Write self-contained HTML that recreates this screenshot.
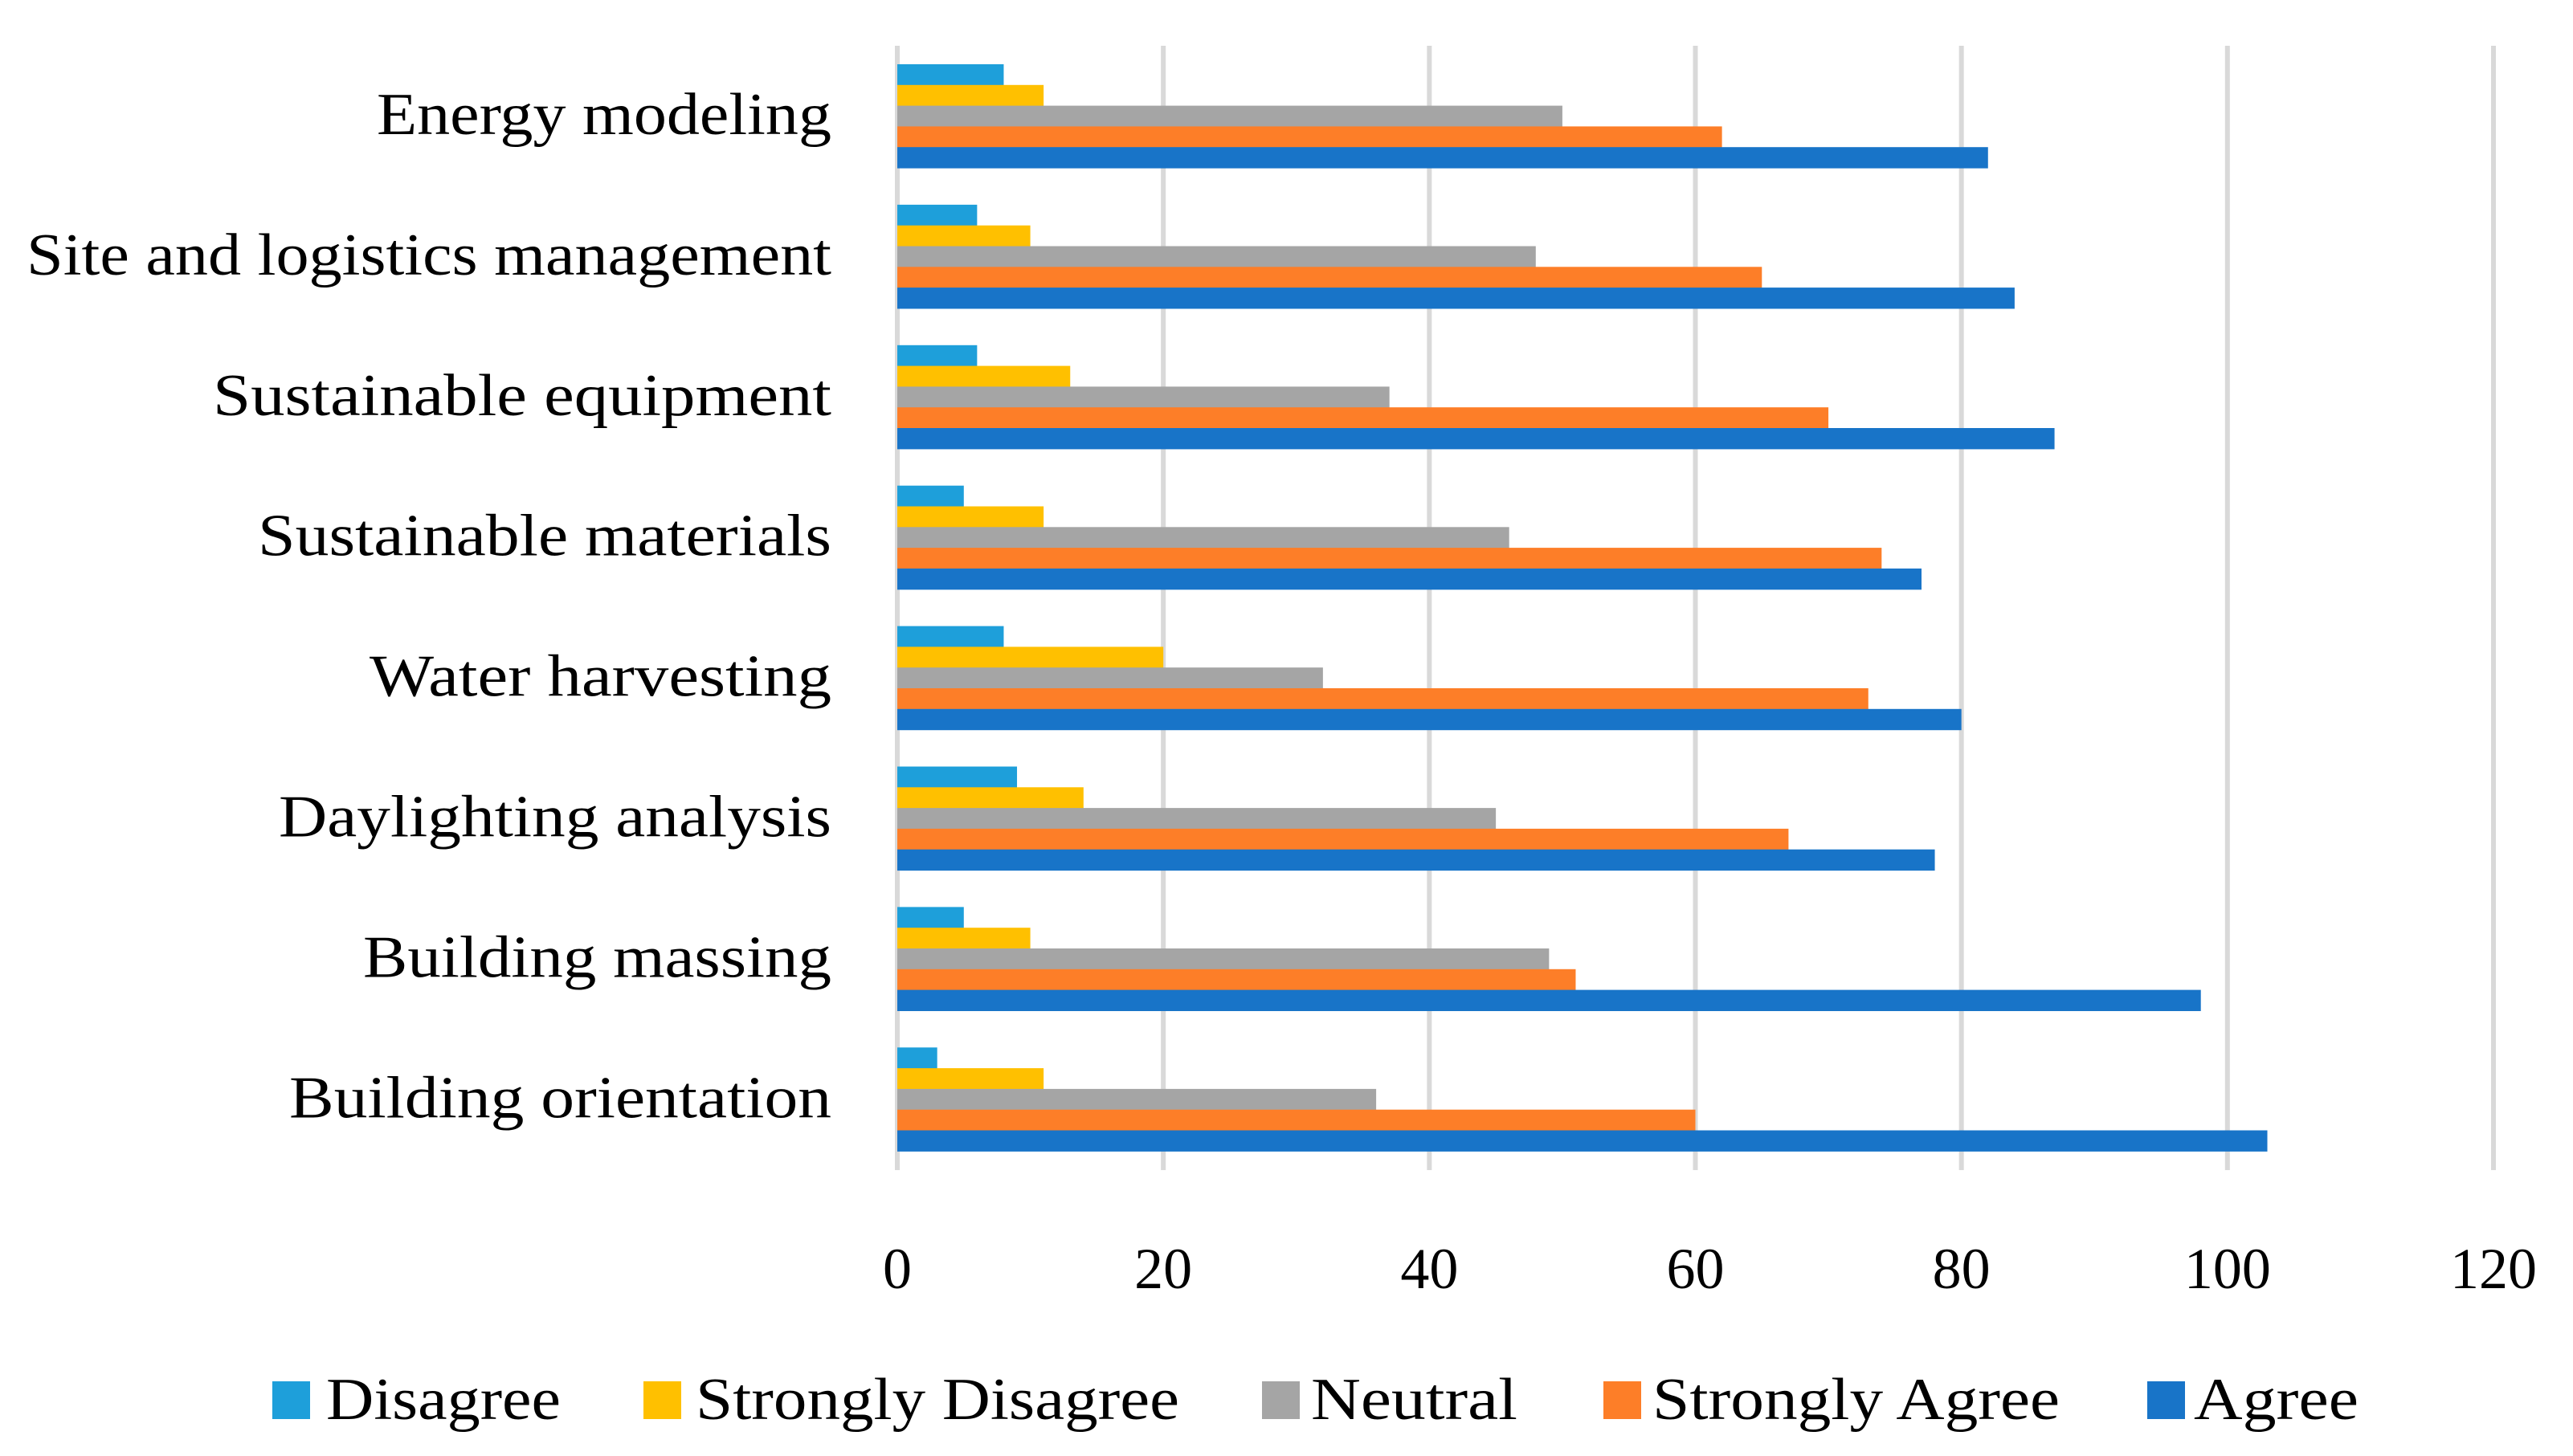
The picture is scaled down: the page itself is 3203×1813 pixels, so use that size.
<!DOCTYPE html>
<html><head><meta charset="utf-8"><style>
html,body{margin:0;padding:0;background:#fff;}
svg{display:block;font-family:"Liberation Serif",serif;}
</style></head><body>
<svg id="chart" width="3203" height="1813" viewBox="0 0 3203 1813" xmlns="http://www.w3.org/2000/svg">
<g id="grid"></g>
<g id="bars"></g>
<g id="ylabels"></g>
<g id="xlabels"></g>
<g id="legend"></g>
</svg>
<script>
const categories = ["Energy modeling","Site and logistics management","Sustainable equipment","Sustainable materials","Water harvesting","Daylighting analysis","Building massing","Building orientation"];
const seriesNames = ["Disagree","Strongly Disagree","Neutral","Strongly Agree","Agree"];
const disagree = [8,6,6,5,8,9,5,3];
const stronglyDisagree = [11,10,13,11,20,14,10,11];
const neutral = [50,48,37,46,32,45,49,36];
const stronglyAgree = [62,65,70,74,73,67,51,60];
const agree = [82,84,87,77,80,78,98,103];
const xTicks = [0,20,40,60,80,100,120];

const series = [disagree, stronglyDisagree, neutral, stronglyAgree, agree];
const colors = ["#1E9FDA","#FFC000","#A5A5A5","#FD7E28","#1874C8"];
const labelWidths = [566,1002,770,714,575,688,583,675];
const legendTextW = [292,602,257,507,205];
const legendSqX = [339,801,1571,1996,2673];
const NS = "http://www.w3.org/2000/svg";
const x0 = 1117, pxPer = (3104-1117)/120;
const gTop = 80, gPitch = 174.9, barH = 25.8;
const xs = v => x0 + v*pxPer;
function mk(tag, attrs, parent){const e=document.createElementNS(NS,tag);for(const k in attrs)e.setAttribute(k,attrs[k]);parent.appendChild(e);return e;}
const grid=document.getElementById('grid'), bars=document.getElementById('bars'), yl=document.getElementById('ylabels'), xl=document.getElementById('xlabels'), lg=document.getElementById('legend');
xTicks.forEach(t=>{
  const l=mk('line',{x1:xs(t),x2:xs(t),y1:57,y2:1457,stroke:"#D9D9D9","stroke-width":6},grid);
  
  
  const tx=mk('text',{x:xs(t),y:1604,"text-anchor":"middle","font-size":72,fill:"#000"},xl);
  tx.textContent=t;
  
  
});
categories.forEach((c,i)=>{
  const top=gTop+gPitch*i;
  series.forEach((s,j)=>{
    const r=mk('rect',{x:x0,y:top+barH*j,width:s[i]*pxPer,height:barH+0.6,fill:colors[j]},bars);
    
    
  });
  const t=mk('text',{x:1035,y:top+87,"text-anchor":"end","font-size":74,fill:"#000",textLength:labelWidths[i],lengthAdjust:"spacingAndGlyphs"},yl);
  t.textContent=c;
  
  
});
seriesNames.forEach((n,j)=>{
  const sq=mk('rect',{x:legendSqX[j],y:1720,width:47,height:47,fill:colors[j]},lg);
  
  
  const t=mk('text',{x:legendSqX[j]+(j==0?67:j==1?65:j==4?58:61),y:1767,"font-size":74,fill:"#000",textLength:legendTextW[j],lengthAdjust:"spacingAndGlyphs"},lg);
  t.textContent=n;
  
  
});
</script>
</body></html>
